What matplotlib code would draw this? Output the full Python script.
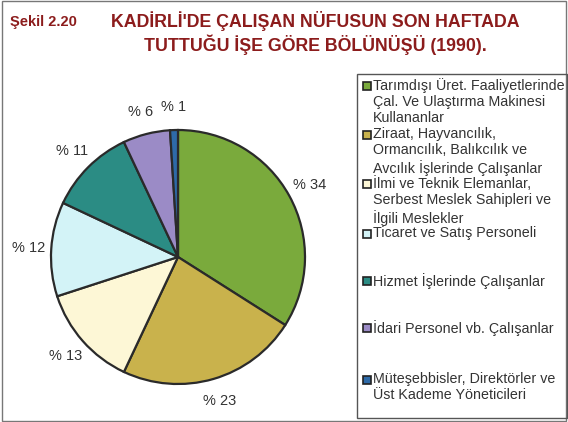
import matplotlib.pyplot as plt
import numpy as np
from matplotlib.patches import Rectangle

shares = [34, 23, 13, 12, 11, 6, 1]
labels = ['% 34', '% 23', '% 13', '% 12', '% 11', '% 6', '% 1']
colors = ['#7aaa3c', '#c9b24c', '#fdf7d6', '#d3f3f7', '#2b8c84', '#9b8bc6', '#2e6aa8']
groups = ['Tarımdışı Üret. Faaliyetlerinde\nÇal. Ve Ulaştırma Makinesi\nKullananlar',
          'Ziraat, Hayvancılık,\nOrmancılık, Balıkcılık ve\nAvcılık İşlerinde Çalışanlar',
          'İlmi ve Teknik Elemanlar,\nSerbest Meslek Sahipleri ve\nİlgili Meslekler',
          'Ticaret ve Satış Personeli',
          'Hizmet İşlerinde Çalışanlar',
          'İdari Personel vb. Çalışanlar',
          'Müteşebbisler, Direktörler ve\nÜst Kademe Yöneticileri']
group_y = [86, 135, 184, 234, 281, 328, 380]  # px from top

plt.rcParams['font.family'] = ['Liberation Sans', 'DejaVu Sans']
fig, ax = plt.subplots(figsize=(5.68, 4.22), dpi=100)
ax.set_position([(178 - 127) / 568, (422 - 257 - 127) / 422, 254 / 568, 254 / 422])
wedges, texts = ax.pie(shares, labels=labels, colors=colors, startangle=90, counterclock=False,
                       labeldistance=1.18, wedgeprops=dict(edgecolor='#2a2a2a', linewidth=1.6),
                       textprops=dict(fontsize=10.5, color='#333333'))
for t in texts:
    t.set_ha('center')
    t.set_va('center')
ax.set(xlim=(-1, 1), ylim=(-1, 1))

# frame and legend box
fig.patches.append(Rectangle((0.003, 0.003), 0.994, 0.994, transform=fig.transFigure,
                             fill=False, edgecolor='#777777', linewidth=1))
fig.patches.append(Rectangle((357 / 568, 4 / 422), 210 / 568, (418 - 74) / 422, transform=fig.transFigure,
                             fill=False, edgecolor='#555555', linewidth=1))
for c, g, y in zip(colors, groups, group_y):
    fig.patches.append(Rectangle((363 / 568, 1 - (y + 4) / 422), 8 / 568, 8 / 422, transform=fig.transFigure,
                                 facecolor=c, edgecolor='#222222', linewidth=1.2))
    fig.text(373 / 568, 1 - (y - 8) / 422, g, fontsize=10.3, color='#333333', ha='left', va='top',
             linespacing=1.2)

plt.text(10 / 568, 1 - 22 / 422, 'Şekil 2.20', transform=fig.transFigure, fontsize=10.5,
         fontweight='bold', color='#8c1c1c', ha='left', va='center')
plt.text(315 / 568, 1 - 33 / 422, "KADİRLİ'DE ÇALIŞAN NÜFUSUN SON HAFTADA\nTUTTUĞU İŞE GÖRE BÖLÜNÜŞÜ (1990).",
         transform=fig.transFigure, fontsize=12.8, fontweight='bold', color='#8c1c1c',
         ha='center', va='center', linespacing=1.2)
fig.savefig('out.png', dpi=100)
